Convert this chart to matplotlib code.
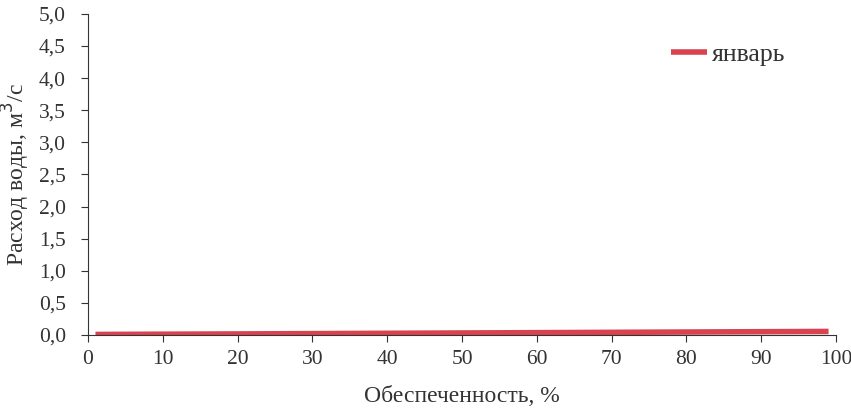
import matplotlib.pyplot as plt
from matplotlib.ticker import FuncFormatter

# Кривая обеспеченности расхода воды, январь
obesp = [1, 5, 10, 20, 30, 40, 50, 60, 70, 80, 90, 99]
rashod = [0.008, 0.010, 0.012, 0.016, 0.021, 0.026, 0.031, 0.036, 0.041, 0.046, 0.051, 0.055]

plt.rcParams['font.family'] = ['Liberation Serif', 'DejaVu Serif']

fig = plt.figure(figsize=(8.51, 4.09), dpi=100)
ax = fig.add_axes([0.1034, 0.181, 0.879, 0.785])

ax.plot(obesp, rashod, color="#d9434f", linewidth=4, solid_capstyle="butt", label="январь")

ax.set_xlim(0, 100)
ax.set_ylim(0, 5)
ax.set_xticks(range(0, 101, 10))
ax.set_yticks([i * 0.5 for i in range(11)])
ax.yaxis.set_major_formatter(FuncFormatter(lambda v, p: f"{v:.1f}".replace(".", ",")))

ax.spines["top"].set_visible(False)
ax.spines["right"].set_visible(False)
ax.spines["left"].set_color("#333333")
ax.spines["bottom"].set_color("#333333")
ax.tick_params(axis="both", labelsize=15.5, colors="#333333", length=5)
ax.tick_params(axis="y", direction="out", pad=11)
ax.tick_params(axis="x", pad=6)

ax.set_xlabel("Обеспеченность, %", fontsize=17, color="#333333", labelpad=12)
ax.set_ylabel("Расход воды, м$^3$/с", fontsize=17, color="#333333", labelpad=5)

ax.legend(loc="upper left", bbox_to_anchor=(0.748, 0.98), frameon=False,
          fontsize=18.5, handlelength=1.4, handletextpad=0.2, labelcolor="#333333")

fig.savefig("out.png", dpi=100)
